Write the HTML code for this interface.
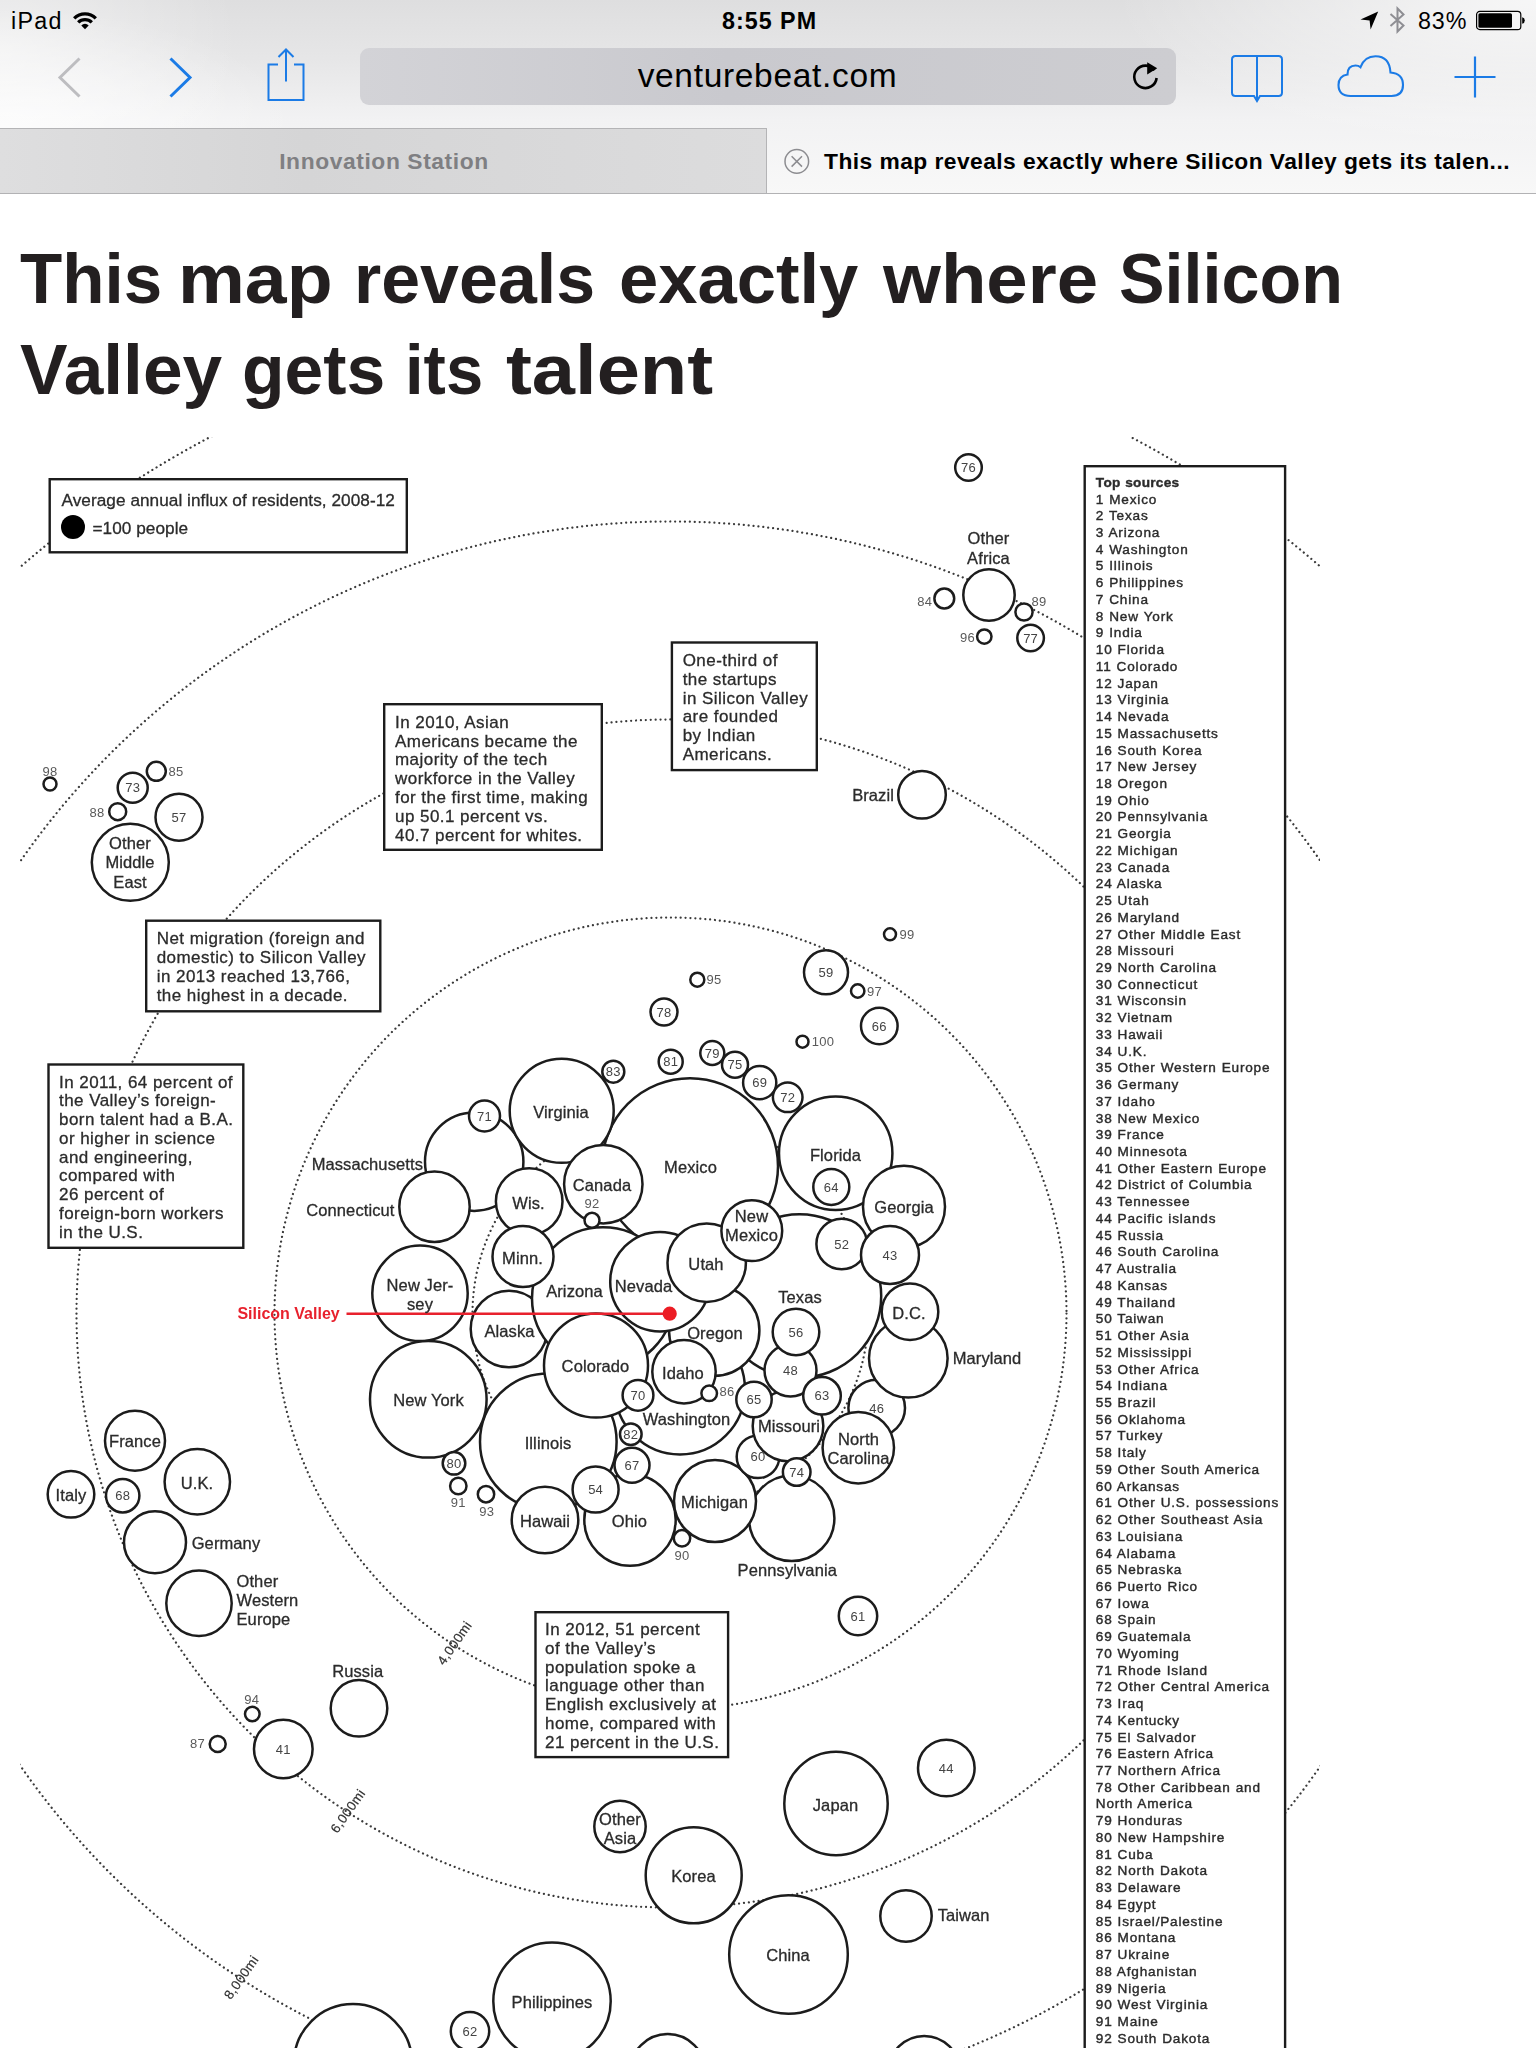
<!DOCTYPE html>
<html>
<head>
<meta charset="utf-8">
<title>This map reveals exactly where Silicon Valley gets its talent</title>
<style>
html,body{margin:0;padding:0;}
body{width:1536px;height:2048px;overflow:hidden;background:#fff;position:relative;font-family:"Liberation Sans",sans-serif;color:#000;}
.abs{position:absolute;}
#chrome{left:0;top:0;width:1536px;height:193px;background:radial-gradient(ellipse 420px 150px at 1536px 0px,rgba(255,255,255,.75),rgba(255,255,255,0)),radial-gradient(ellipse 240px 190px at 0px 50px,rgba(255,255,255,.5),rgba(255,255,255,0)),radial-gradient(ellipse 300px 120px at 0px 128px,rgba(255,255,255,.7),rgba(255,255,255,0)),linear-gradient(to bottom,#dededf 0%,#e6e6e7 30%,#f2f2f3 62%,#f8f8f8 100%);}
#tabL{left:0;top:128px;width:767px;height:65px;background:linear-gradient(90deg,#dededf 0%,#d5d5d6 40%,#dcdcdd 100%);border-top:1px solid #b4b4b6;border-right:1px solid #b4b4b6;box-sizing:border-box;}
#tabline{left:0;top:193px;width:1536px;height:1px;background:#b2b2b4;}
#url{left:360px;top:48px;width:816px;height:57px;border-radius:9px;background:linear-gradient(90deg,#d3d3d7 0%,#c9c9ce 45%,#cdcdd1 100%);}
.st{font-size:23.3px;line-height:1;white-space:nowrap;}
.hw{position:absolute;font-weight:bold;color:#231f20;font-size:70.6px;line-height:1;white-space:nowrap;transform-origin:0 0;}
</style>
</head>
<body>
<div id="chrome" class="abs"></div>
<div id="tabL" class="abs"></div>
<div id="tabline" class="abs"></div>
<div id="url" class="abs"></div>

<!-- status bar -->
<div class="abs st" style="left:11px;top:10px;letter-spacing:1.3px;">iPad</div>
<svg class="abs" style="left:72px;top:10px" width="26" height="20" viewBox="0 0 26 20">
  <g fill="none" stroke="#000" stroke-width="3.3">
    <path d="M2.2 8.3 A15.3 15.3 0 0 1 23.8 8.3"/>
    <path d="M6.2 12.4 A9.6 9.6 0 0 1 19.8 12.4"/>
  </g>
  <path d="M13 19.2 L9.3 15.4 A5.2 5.2 0 0 1 16.7 15.4 Z" fill="#000"/>
</svg>
<div class="abs st" style="left:722px;top:10px;font-weight:bold;letter-spacing:1.0px;">8:55 PM</div>
<svg class="abs" style="left:1359px;top:10px" width="21" height="21" viewBox="0 0 21 21">
  <path d="M1.5 9.6 L19.2 1.6 L11.6 19.6 L10.6 10.4 Z" fill="#000"/>
</svg>
<svg class="abs" style="left:1388px;top:6px" width="20" height="28" viewBox="0 0 20 28">
  <path d="M2.5 8 L15.5 19.5 L9.5 25.5 L9.5 2.5 L15.5 8.5 L2.5 20" fill="none" stroke="#8e8e93" stroke-width="2"/>
</svg>
<div class="abs st" style="left:1418px;top:10px;letter-spacing:0.9px;">83%</div>
<svg class="abs" style="left:1475px;top:10px" width="52" height="21" viewBox="0 0 52 21">
  <rect x="1.6" y="1.4" width="44.2" height="18.2" rx="3.2" fill="none" stroke="#000" stroke-width="1.2"/>
  <rect x="3.4" y="3.2" width="33.6" height="14.6" rx="1.6" fill="#000"/>
  <path d="M47.2 7.2 Q49.8 7.8 49.8 10.5 Q49.8 13.2 47.2 13.8 Z" fill="#000"/>
</svg>

<!-- toolbar -->
<svg class="abs" style="left:50px;top:50px" width="40" height="56" viewBox="0 0 40 56">
  <path d="M29.5 8.5 L10 27.5 L29.5 46.5" fill="none" stroke="#bdbdc0" stroke-width="3"/>
</svg>
<svg class="abs" style="left:160px;top:50px" width="40" height="56" viewBox="0 0 40 56">
  <path d="M10.5 8.5 L30 27.5 L10.5 46.5" fill="none" stroke="#1b7be6" stroke-width="3"/>
</svg>
<svg class="abs" style="left:262px;top:44px" width="48" height="62" viewBox="0 0 48 62">
  <g fill="none" stroke="#1b7be6" stroke-width="2">
    <path d="M16 20.5 L6.5 20.5 L6.5 56 L41.5 56 L41.5 20.5 L32 20.5"/>
    <path d="M24 37.5 L24 6"/>
    <path d="M16.5 13 L24 5.5 L31.5 13"/>
  </g>
</svg>
<div class="abs" style="left:360px;top:59px;width:816px;text-align:center;font-size:33.5px;line-height:1;letter-spacing:0.68px;text-indent:-1px;">venturebeat.com</div>
<svg class="abs" style="left:1128px;top:58px" width="36" height="38" viewBox="0 0 36 38">
  <path d="M26.5 12.2 A11.2 11.2 0 1 0 28.6 20" fill="none" stroke="#000" stroke-width="2.6"/>
  <path d="M19.2 4.2 L29.2 10.2 L19.2 16.6 Z" fill="#000"/>
</svg>
<svg class="abs" style="left:1226px;top:50px" width="62" height="56" viewBox="0 0 62 56">
  <g fill="none" stroke="#1b7be6" stroke-width="2">
    <path d="M31 6 L9.5 6 Q6 6 6 9.5 L6 42.5 Q6 46 9.5 46 L28 46 L31 51 L34 46 L52.5 46 Q56 46 56 42.5 L56 9.5 Q56 6 52.5 6 Z"/>
    <path d="M31 6 L31 51"/>
  </g>
</svg>
<svg class="abs" style="left:1332px;top:50px" width="78" height="52" viewBox="0 0 78 52">
  <path d="M18.5 46 Q6.5 46 6.5 35 Q6.5 26 15.5 24.5 Q15.5 15.5 23.5 15.5 Q26.5 15.5 28.5 17.2 Q32.5 6.2 43.5 6.2 Q57.5 6.2 58.5 22.5 Q71 23.5 71 35 Q71 46 59.5 46 Z" fill="none" stroke="#1b7be6" stroke-width="2.1"/>
</svg>
<svg class="abs" style="left:1450px;top:52px" width="50" height="50" viewBox="0 0 50 50">
  <path d="M25 4.5 L25 45.5 M4.5 25 L45.5 25" fill="none" stroke="#1b7be6" stroke-width="2.2"/>
</svg>

<!-- tabs -->
<div class="abs" style="left:0;top:150px;width:768px;text-align:center;font-size:22.8px;font-weight:bold;color:#7f7f82;line-height:1;letter-spacing:0.6px;">Innovation Station</div>
<svg class="abs" style="left:782px;top:147px" width="30" height="30" viewBox="0 0 30 30">
  <circle cx="14.8" cy="14.4" r="11.8" fill="none" stroke="#8c8c90" stroke-width="1.5"/>
  <path d="M9.6 9.2 L20 19.6 M20 9.2 L9.6 19.6" stroke="#8c8c90" stroke-width="1.5" fill="none"/>
</svg>
<div class="abs" style="left:824px;top:150px;font-size:22.8px;font-weight:bold;color:#000;line-height:1;white-space:nowrap;letter-spacing:0.45px;">This map reveals exactly where Silicon Valley gets its talen...</div>

<!-- headline -->
<span class="hw" style="left:20.4px;top:243.9px;transform:scaleX(0.9794)">This</span>
<span class="hw" style="left:177.9px;top:243.9px;transform:scaleX(1.0650)">map</span>
<span class="hw" style="left:353.7px;top:243.9px;transform:scaleX(0.9907)">reveals</span>
<span class="hw" style="left:618.9px;top:243.9px;transform:scaleX(0.9996)">exactly</span>
<span class="hw" style="left:882.8px;top:243.9px;transform:scaleX(1.0545)">where</span>
<span class="hw" style="left:1118.9px;top:243.9px;transform:scaleX(0.9676)">Silicon</span>
<span class="hw" style="left:20.4px;top:334.5px;transform:scaleX(1.0101)">Valley</span>
<span class="hw" style="left:241.8px;top:334.5px;transform:scaleX(0.9871)">gets</span>
<span class="hw" style="left:404.6px;top:334.5px;transform:scaleX(0.9486)">its</span>
<span class="hw" style="left:506.2px;top:334.5px;transform:scaleX(1.1005)">talent</span>

<svg id="map" width="1300" height="1611" viewBox="20 437 1300 1611" style="position:absolute;left:20px;top:437px;overflow:hidden;filter:blur(0.55px)">
<g fill="none" stroke="#3a3a3a" stroke-width="2.25" stroke-linecap="round" stroke-dasharray="0.01 4.9">
<circle cx="670.5" cy="1313.5" r="198.0"/>
<circle cx="670.5" cy="1313.5" r="396.0"/>
<circle cx="670.5" cy="1313.5" r="594.0"/>
<circle cx="670.5" cy="1313.5" r="792.0"/>
<circle cx="670.5" cy="1313.5" r="990.0"/>
</g>
<g fill="#fff" stroke="#1c1c1c" stroke-width="2.5">
<circle cx="968.5" cy="467.5" r="13.3"/>
<circle cx="989" cy="595" r="25.7"/>
<circle cx="944.3" cy="598.5" r="9.9"/>
<circle cx="1024" cy="612" r="8.6"/>
<circle cx="984.3" cy="636.6" r="7.2"/>
<circle cx="1030.6" cy="638" r="13.3"/>
<circle cx="922" cy="794.7" r="23.8"/>
<circle cx="50" cy="784" r="6.5"/>
<circle cx="156.3" cy="771.3" r="9.5"/>
<circle cx="132.7" cy="787.7" r="15"/>
<circle cx="117.7" cy="811.7" r="8.5"/>
<circle cx="179" cy="817.3" r="23.5"/>
<circle cx="130.3" cy="862.3" r="38.5"/>
<circle cx="890" cy="934.3" r="6"/>
<circle cx="826" cy="972.3" r="22"/>
<circle cx="697.3" cy="979.7" r="7"/>
<circle cx="857.7" cy="991" r="6.7"/>
<circle cx="664" cy="1012" r="13.5"/>
<circle cx="879.3" cy="1026" r="18.3"/>
<circle cx="802.5" cy="1041.7" r="6"/>
<circle cx="670.7" cy="1061.7" r="12"/>
<circle cx="712.3" cy="1053" r="12"/>
<circle cx="735" cy="1064.7" r="13"/>
<circle cx="759.7" cy="1082.7" r="16.6"/>
<circle cx="787.7" cy="1097.3" r="14.8"/>
<circle cx="799.5" cy="1296" r="81.7"/>
<circle cx="690" cy="1166.2" r="88"/>
<circle cx="680" cy="1389.5" r="65"/>
<circle cx="474.2" cy="1161.7" r="49.2"/>
<circle cx="548.3" cy="1441.7" r="68.3"/>
<circle cx="509" cy="1329" r="38.3"/>
<circle cx="603" cy="1298.3" r="71"/>
<circle cx="835.7" cy="1153.3" r="56.7"/>
<circle cx="904" cy="1206.7" r="41"/>
<circle cx="714.2" cy="1330.6" r="45.2"/>
<circle cx="561.7" cy="1110.8" r="52"/>
<circle cx="603.3" cy="1184.2" r="39.2"/>
<circle cx="592" cy="1220.3" r="7.5"/>
<circle cx="613.3" cy="1071.7" r="11"/>
<circle cx="484.5" cy="1116" r="15.5"/>
<circle cx="434.5" cy="1206.7" r="35.2"/>
<circle cx="529.2" cy="1201.5" r="33.3"/>
<circle cx="523" cy="1256.5" r="30.5"/>
<circle cx="660" cy="1281.7" r="49.8"/>
<circle cx="706.7" cy="1262.7" r="39.2"/>
<circle cx="751.8" cy="1230.7" r="30.4"/>
<circle cx="596" cy="1365.5" r="52"/>
<circle cx="684" cy="1371.7" r="31.7"/>
<circle cx="709.2" cy="1393.3" r="7.8"/>
<circle cx="638" cy="1395.3" r="15.4"/>
<circle cx="630.8" cy="1434.2" r="10.8"/>
<circle cx="420" cy="1293.3" r="47.7"/>
<circle cx="428.3" cy="1399.3" r="58.3"/>
<circle cx="454" cy="1463.3" r="11.3"/>
<circle cx="458.3" cy="1486" r="8.2"/>
<circle cx="486" cy="1494.2" r="8.2"/>
<circle cx="545" cy="1520" r="33.3"/>
<circle cx="630" cy="1520" r="45.7"/>
<circle cx="632" cy="1465.3" r="17.5"/>
<circle cx="595.6" cy="1489.5" r="23"/>
<circle cx="791.7" cy="1518.3" r="42.7"/>
<circle cx="715" cy="1501" r="41"/>
<circle cx="682" cy="1538.3" r="8.2"/>
<circle cx="758" cy="1456.7" r="21.3"/>
<circle cx="788" cy="1426" r="35.3"/>
<circle cx="790.5" cy="1370.5" r="26"/>
<circle cx="796" cy="1332" r="23.3"/>
<circle cx="754" cy="1399.5" r="17.7"/>
<circle cx="822" cy="1395.8" r="18.8"/>
<circle cx="796.7" cy="1472" r="13.8"/>
<circle cx="831.3" cy="1186.9" r="18"/>
<circle cx="841.7" cy="1244" r="25.3"/>
<circle cx="890" cy="1255" r="29"/>
<circle cx="876.7" cy="1408" r="28.3"/>
<circle cx="908.3" cy="1358.3" r="39.3"/>
<circle cx="910" cy="1311.7" r="28.3"/>
<circle cx="858.3" cy="1447.7" r="35.7"/>
<circle cx="135" cy="1440.7" r="30"/>
<circle cx="71" cy="1494.3" r="23.3"/>
<circle cx="122.7" cy="1495.7" r="16.7"/>
<circle cx="197.3" cy="1481.7" r="32.7"/>
<circle cx="155" cy="1542.3" r="31"/>
<circle cx="199" cy="1603.3" r="32.7"/>
<circle cx="359" cy="1708.3" r="28.3"/>
<circle cx="252.3" cy="1714" r="7.3"/>
<circle cx="217.7" cy="1744" r="8"/>
<circle cx="283.3" cy="1749" r="29.3"/>
<circle cx="858" cy="1616" r="19.2"/>
<circle cx="946.3" cy="1768" r="28.3"/>
<circle cx="836" cy="1803.5" r="51.7"/>
<circle cx="620" cy="1826.5" r="25.7"/>
<circle cx="693.7" cy="1875.3" r="48"/>
<circle cx="788.5" cy="1954.5" r="59.3"/>
<circle cx="906" cy="1916" r="25.7"/>
<circle cx="552" cy="2001.3" r="58.7"/>
<circle cx="470" cy="2031.3" r="19.2"/>
<circle cx="353" cy="2063" r="59"/>
<circle cx="667.7" cy="2071.6" r="37.6"/>
<circle cx="924.2" cy="2071.8" r="35.8"/>
</g>
<g fill="#fff" stroke="#1c1c1c" stroke-width="2.4">
<rect x="49.7" y="479.2" width="357.1" height="73.1"/>
<rect x="384.2" y="704.2" width="217.6" height="145.6"/>
<rect x="671.9" y="642.5" width="144.9" height="127.6"/>
<rect x="146.2" y="920.7" width="234.1" height="90.6"/>
<rect x="48.5" y="1064.5" width="194.8" height="183.3"/>
<rect x="535.5" y="1612.2" width="192.6" height="144.9"/>
<rect x="1084.7" y="466.2" width="200.4" height="1700"/>
</g>
<circle cx="73" cy="527" r="12" fill="#000"/>
<line x1="346.5" y1="1313.7" x2="669.7" y2="1313.7" stroke="#e8212d" stroke-width="2.6"/>
<circle cx="669.7" cy="1313.7" r="7.1" fill="#ec1c24"/>
<g font-family="Liberation Sans, sans-serif" fill="#2b2b2b" stroke="#2b2b2b" stroke-width="0.3">
<g font-size="16.5" letter-spacing="0.1">
<text x="988.5" y="544" text-anchor="middle">Other</text>
<text x="988.5" y="563.5" text-anchor="middle">Africa</text>
<text x="130" y="849" text-anchor="middle">Other</text>
<text x="130" y="868" text-anchor="middle">Middle</text>
<text x="130" y="887.5" text-anchor="middle">East</text>
<text x="561" y="1117.5" text-anchor="middle">Virginia</text>
<text x="690.5" y="1173" text-anchor="middle">Mexico</text>
<text x="602" y="1190.5" text-anchor="middle">Canada</text>
<text x="528.5" y="1209" text-anchor="middle">Wis.</text>
<text x="522.5" y="1263.5" text-anchor="middle">Minn.</text>
<text x="574.5" y="1296.5" text-anchor="middle">Arizona</text>
<text x="643.5" y="1291.5" text-anchor="middle">Nevada</text>
<text x="706" y="1269.5" text-anchor="middle">Utah</text>
<text x="751.5" y="1221.5" text-anchor="middle">New</text>
<text x="751.5" y="1241" text-anchor="middle">Mexico</text>
<text x="800" y="1303" text-anchor="middle">Texas</text>
<text x="835.5" y="1161" text-anchor="middle">Florida</text>
<text x="904" y="1213" text-anchor="middle">Georgia</text>
<text x="909" y="1319" text-anchor="middle">D.C.</text>
<text x="715" y="1339" text-anchor="middle">Oregon</text>
<text x="683" y="1378.5" text-anchor="middle">Idaho</text>
<text x="595.5" y="1372" text-anchor="middle">Colorado</text>
<text x="509.5" y="1336.5" text-anchor="middle">Alaska</text>
<text x="420" y="1291" text-anchor="middle">New Jer-</text>
<text x="420" y="1310" text-anchor="middle">sey</text>
<text x="428.5" y="1405.5" text-anchor="middle">New York</text>
<text x="548" y="1448.5" text-anchor="middle">Illinois</text>
<text x="686.5" y="1425" text-anchor="middle">Washington</text>
<text x="789" y="1432" text-anchor="middle">Missouri</text>
<text x="858.5" y="1444.5" text-anchor="middle">North</text>
<text x="858.5" y="1464" text-anchor="middle">Carolina</text>
<text x="714.5" y="1508" text-anchor="middle">Michigan</text>
<text x="629.5" y="1526.5" text-anchor="middle">Ohio</text>
<text x="545" y="1526.5" text-anchor="middle">Hawaii</text>
<text x="135" y="1447" text-anchor="middle">France</text>
<text x="71" y="1501" text-anchor="middle">Italy</text>
<text x="197" y="1489" text-anchor="middle">U.K.</text>
<text x="357.7" y="1676.5" text-anchor="middle">Russia</text>
<text x="835.5" y="1811" text-anchor="middle">Japan</text>
<text x="693.5" y="1882" text-anchor="middle">Korea</text>
<text x="788" y="1961" text-anchor="middle">China</text>
<text x="552" y="2008" text-anchor="middle">Philippines</text>
<text x="620" y="1825" text-anchor="middle">Other</text>
<text x="620" y="1844" text-anchor="middle">Asia</text>
<text x="894" y="801" text-anchor="end">Brazil</text>
<text x="423" y="1169.5" text-anchor="end">Massachusetts</text>
<text x="394.5" y="1215.6" text-anchor="end">Connecticut</text>
<text x="952.7" y="1364" text-anchor="start">Maryland</text>
<text x="787.3" y="1575.5" text-anchor="middle">Pennsylvania</text>
<text x="191.7" y="1549" text-anchor="start">Germany</text>
<text x="236.5" y="1587" text-anchor="start">Other</text>
<text x="236.5" y="1606" text-anchor="start">Western</text>
<text x="236.5" y="1625" text-anchor="start">Europe</text>
<text x="937.7" y="1921" text-anchor="start">Taiwan</text>
</g><g font-size="13" text-anchor="middle" fill="#444" stroke="none" letter-spacing="0.2">
<text x="968.5" y="472.1">76</text>
<text x="1030.6" y="642.6">77</text>
<text x="132.7" y="792.3000000000001">73</text>
<text x="179" y="821.9">57</text>
<text x="826" y="976.9">59</text>
<text x="664" y="1016.6">78</text>
<text x="879.3" y="1030.6">66</text>
<text x="670.7" y="1066.3">81</text>
<text x="712.3" y="1057.6">79</text>
<text x="735" y="1069.3">75</text>
<text x="759.7" y="1087.3">69</text>
<text x="787.7" y="1101.8999999999999">72</text>
<text x="613.3" y="1076.3">83</text>
<text x="484.5" y="1120.6">71</text>
<text x="831.3" y="1191.5">64</text>
<text x="841.7" y="1248.6">52</text>
<text x="890" y="1259.6">43</text>
<text x="796" y="1336.6">56</text>
<text x="790.5" y="1375.1">48</text>
<text x="754" y="1404.1">65</text>
<text x="822" y="1400.3999999999999">63</text>
<text x="638" y="1399.8999999999999">70</text>
<text x="630.8" y="1438.8">82</text>
<text x="632" y="1469.8999999999999">67</text>
<text x="595.6" y="1494.1">54</text>
<text x="758" y="1461.3">60</text>
<text x="796.7" y="1476.6">74</text>
<text x="876.7" y="1412.6">46</text>
<text x="454" y="1467.8999999999999">80</text>
<text x="122.7" y="1500.3">68</text>
<text x="283.3" y="1753.6">41</text>
<text x="858" y="1620.6">61</text>
<text x="946.3" y="1772.6">44</text>
<text x="470" y="2035.8999999999999">62</text>
</g><g font-size="13" text-anchor="middle" fill="#5a5a5a" stroke="none" letter-spacing="0.2">
<text x="924.7" y="605.5">84</text>
<text x="1039" y="605.5">89</text>
<text x="967.5" y="641.5">96</text>
<text x="50" y="775.5">98</text>
<text x="176" y="776">85</text>
<text x="97" y="817">88</text>
<text x="907" y="938.5">99</text>
<text x="714" y="984">95</text>
<text x="874.5" y="995.5">97</text>
<text x="823" y="1046">100</text>
<text x="592" y="1207.5">92</text>
<text x="727" y="1396">86</text>
<text x="458.3" y="1507">91</text>
<text x="486.7" y="1515.5">93</text>
<text x="682" y="1560">90</text>
<text x="251.7" y="1704">94</text>
<text x="197.5" y="1748">87</text>
</g>
<g font-size="17" letter-spacing="0.45">
<text x="395" y="727.7">In 2010, Asian</text>
<text x="395" y="746.5">Americans became the</text>
<text x="395" y="765.4">majority of the tech</text>
<text x="395" y="784.2">workforce in the Valley</text>
<text x="395" y="803.0">for the first time, making</text>
<text x="395" y="821.9">up 50.1 percent vs.</text>
<text x="395" y="840.7">40.7 percent for whites.</text>
<text x="682.7" y="666.0">One-third of</text>
<text x="682.7" y="684.8">the startups</text>
<text x="682.7" y="703.6">in Silicon Valley</text>
<text x="682.7" y="722.4">are founded</text>
<text x="682.7" y="741.2">by Indian</text>
<text x="682.7" y="760.0">Americans.</text>
<text x="156.7" y="944.3">Net migration (foreign and</text>
<text x="156.7" y="963.0">domestic) to Silicon Valley</text>
<text x="156.7" y="981.8">in 2013 reached 13,766,</text>
<text x="156.7" y="1000.5">the highest in a decade.</text>
<text x="59" y="1087.5">In 2011, 64 percent of</text>
<text x="59" y="1106.2">the Valley’s foreign-</text>
<text x="59" y="1125.0">born talent had a B.A.</text>
<text x="59" y="1143.8">or higher in science</text>
<text x="59" y="1162.5">and engineering,</text>
<text x="59" y="1181.2">compared with</text>
<text x="59" y="1200.0">26 percent of</text>
<text x="59" y="1218.8">foreign-born workers</text>
<text x="59" y="1237.5">in the U.S.</text>
<text x="545" y="1635.0">In 2012, 51 percent</text>
<text x="545" y="1653.8">of the Valley’s</text>
<text x="545" y="1672.6">population spoke a</text>
<text x="545" y="1691.4">language other than</text>
<text x="545" y="1710.2">English exclusively at</text>
<text x="545" y="1729.0">home, compared with</text>
<text x="545" y="1747.8">21 percent in the U.S.</text>
</g>
<g font-size="17.2" letter-spacing="0.05"><text x="61.5" y="505.5">Average annual influx of residents, 2008-12</text><text x="92.5" y="533.5">=100 people</text></g>
<g font-size="13.6" letter-spacing="0.8" word-spacing="0.5" stroke-width="0.4">
<text x="1095.8" y="486.9" font-weight="bold" letter-spacing="0.3">Top sources</text>
<text x="1095.8" y="503.5">1 Mexico</text>
<text x="1095.8" y="520.2">2 Texas</text>
<text x="1095.8" y="537.0">3 Arizona</text>
<text x="1095.8" y="553.7">4 Washington</text>
<text x="1095.8" y="570.4">5 Illinois</text>
<text x="1095.8" y="587.1">6 Philippines</text>
<text x="1095.8" y="603.9">7 China</text>
<text x="1095.8" y="620.6">8 New York</text>
<text x="1095.8" y="637.3">9 India</text>
<text x="1095.8" y="654.1">10 Florida</text>
<text x="1095.8" y="670.8">11 Colorado</text>
<text x="1095.8" y="687.5">12 Japan</text>
<text x="1095.8" y="704.3">13 Virginia</text>
<text x="1095.8" y="721.0">14 Nevada</text>
<text x="1095.8" y="737.7">15 Massachusetts</text>
<text x="1095.8" y="754.5">16 South Korea</text>
<text x="1095.8" y="771.2">17 New Jersey</text>
<text x="1095.8" y="787.9">18 Oregon</text>
<text x="1095.8" y="804.6">19 Ohio</text>
<text x="1095.8" y="821.4">20 Pennsylvania</text>
<text x="1095.8" y="838.1">21 Georgia</text>
<text x="1095.8" y="854.8">22 Michigan</text>
<text x="1095.8" y="871.6">23 Canada</text>
<text x="1095.8" y="888.3">24 Alaska</text>
<text x="1095.8" y="905.0">25 Utah</text>
<text x="1095.8" y="921.8">26 Maryland</text>
<text x="1095.8" y="938.5">27 Other Middle East</text>
<text x="1095.8" y="955.2">28 Missouri</text>
<text x="1095.8" y="971.9">29 North Carolina</text>
<text x="1095.8" y="988.7">30 Connecticut</text>
<text x="1095.8" y="1005.4">31 Wisconsin</text>
<text x="1095.8" y="1022.1">32 Vietnam</text>
<text x="1095.8" y="1038.9">33 Hawaii</text>
<text x="1095.8" y="1055.6">34 U.K.</text>
<text x="1095.8" y="1072.3">35 Other Western Europe</text>
<text x="1095.8" y="1089.1">36 Germany</text>
<text x="1095.8" y="1105.8">37 Idaho</text>
<text x="1095.8" y="1122.5">38 New Mexico</text>
<text x="1095.8" y="1139.2">39 France</text>
<text x="1095.8" y="1156.0">40 Minnesota</text>
<text x="1095.8" y="1172.7">41 Other Eastern Europe</text>
<text x="1095.8" y="1189.4">42 District of Columbia</text>
<text x="1095.8" y="1206.2">43 Tennessee</text>
<text x="1095.8" y="1222.9">44 Pacific islands</text>
<text x="1095.8" y="1239.6">45 Russia</text>
<text x="1095.8" y="1256.3">46 South Carolina</text>
<text x="1095.8" y="1273.1">47 Australia</text>
<text x="1095.8" y="1289.8">48 Kansas</text>
<text x="1095.8" y="1306.5">49 Thailand</text>
<text x="1095.8" y="1323.3">50 Taiwan</text>
<text x="1095.8" y="1340.0">51 Other Asia</text>
<text x="1095.8" y="1356.7">52 Mississippi</text>
<text x="1095.8" y="1373.5">53 Other Africa</text>
<text x="1095.8" y="1390.2">54 Indiana</text>
<text x="1095.8" y="1406.9">55 Brazil</text>
<text x="1095.8" y="1423.7">56 Oklahoma</text>
<text x="1095.8" y="1440.4">57 Turkey</text>
<text x="1095.8" y="1457.1">58 Italy</text>
<text x="1095.8" y="1473.8">59 Other South America</text>
<text x="1095.8" y="1490.6">60 Arkansas</text>
<text x="1095.8" y="1507.3">61 Other U.S. possessions</text>
<text x="1095.8" y="1524.0">62 Other Southeast Asia</text>
<text x="1095.8" y="1540.8">63 Louisiana</text>
<text x="1095.8" y="1557.5">64 Alabama</text>
<text x="1095.8" y="1574.2">65 Nebraska</text>
<text x="1095.8" y="1591.0">66 Puerto Rico</text>
<text x="1095.8" y="1607.7">67 Iowa</text>
<text x="1095.8" y="1624.4">68 Spain</text>
<text x="1095.8" y="1641.1">69 Guatemala</text>
<text x="1095.8" y="1657.9">70 Wyoming</text>
<text x="1095.8" y="1674.6">71 Rhode Island</text>
<text x="1095.8" y="1691.3">72 Other Central America</text>
<text x="1095.8" y="1708.1">73 Iraq</text>
<text x="1095.8" y="1724.8">74 Kentucky</text>
<text x="1095.8" y="1741.5">75 El Salvador</text>
<text x="1095.8" y="1758.2">76 Eastern Africa</text>
<text x="1095.8" y="1775.0">77 Northern Africa</text>
<text x="1095.8" y="1791.7">78 Other Caribbean and</text>
<text x="1095.8" y="1808.4">North America</text>
<text x="1095.8" y="1825.2">79 Honduras</text>
<text x="1095.8" y="1841.9">80 New Hampshire</text>
<text x="1095.8" y="1858.6">81 Cuba</text>
<text x="1095.8" y="1875.4">82 North Dakota</text>
<text x="1095.8" y="1892.1">83 Delaware</text>
<text x="1095.8" y="1908.8">84 Egypt</text>
<text x="1095.8" y="1925.5">85 Israel/Palestine</text>
<text x="1095.8" y="1942.3">86 Montana</text>
<text x="1095.8" y="1959.0">87 Ukraine</text>
<text x="1095.8" y="1975.7">88 Afghanistan</text>
<text x="1095.8" y="1992.5">89 Nigeria</text>
<text x="1095.8" y="2009.2">90 West Virginia</text>
<text x="1095.8" y="2025.9">91 Maine</text>
<text x="1095.8" y="2042.7">92 South Dakota</text>
<text x="1095.8" y="2059.4">93 Vermont</text>
</g>
<text x="455" y="1647.3" font-size="13.2" letter-spacing="0.4" stroke-width="0.2" fill="#333" text-anchor="middle" transform="rotate(-55 455 1643.3)">4,000mi</text>
<text x="348.3" y="1815.3" font-size="13.2" letter-spacing="0.4" stroke-width="0.2" fill="#333" text-anchor="middle" transform="rotate(-55 348.3 1811.3)">6,000mi</text>
<text x="241.7" y="1981.7" font-size="13.2" letter-spacing="0.4" stroke-width="0.2" fill="#333" text-anchor="middle" transform="rotate(-55 241.7 1977.7)">8,000mi</text>
<text x="339.7" y="1319" font-size="16" font-weight="bold" fill="#e8212d" stroke="none" text-anchor="end">Silicon Valley</text>
</g></svg>
</body>
</html>
